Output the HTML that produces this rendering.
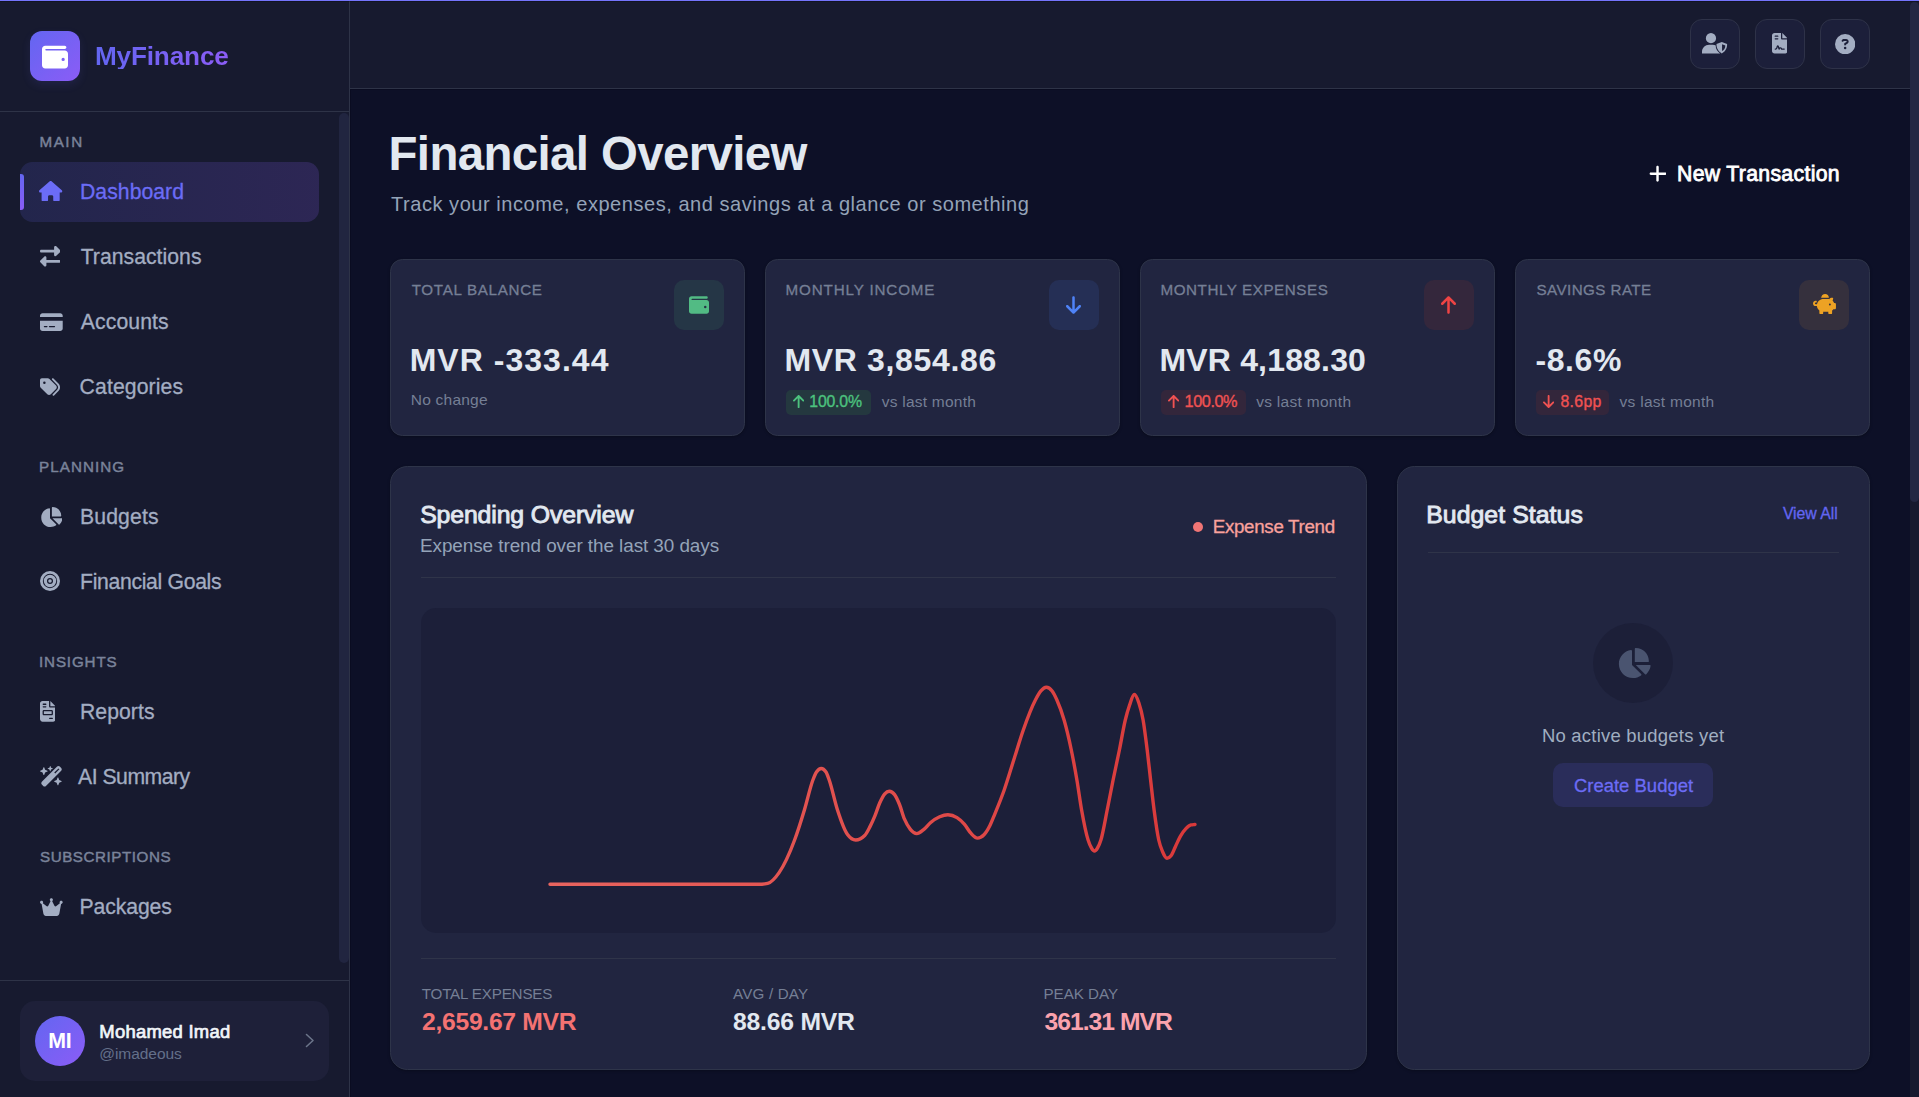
<!DOCTYPE html><html><head><meta charset="utf-8"><title>MyFinance</title><style>
*{margin:0;padding:0;box-sizing:border-box}
html,body{width:1919px;height:1097px;overflow:hidden;background:#0d1027;font-family:"Liberation Sans",sans-serif}
.a{position:absolute}
.t{position:absolute;white-space:nowrap}
.ic{position:absolute;display:block}
</style></head><body>
<div class="a" style="left:0px;top:0px;width:349px;height:1097px;background:#171a2f"></div>
<div class="a" style="left:349px;top:0px;width:1px;height:1097px;background:#2e3347"></div>
<div class="a" style="left:0px;top:111px;width:349px;height:1px;background:#2e3347"></div>
<div class="a" style="left:0px;top:980px;width:349px;height:1px;background:#2e3347"></div>
<div class="a" style="left:350px;top:0px;width:1560px;height:88px;background:#171a2f"></div>
<div class="a" style="left:350px;top:88px;width:1560px;height:1px;background:#2e3347"></div>
<div class="a" style="left:1910px;top:0px;width:9px;height:1097px;background:#171a2f"></div>
<div class="a" style="left:1910px;top:2px;width:9px;height:500px;background:#232743;border-radius:5px"></div>
<div class="a" style="left:339px;top:113px;width:10px;height:850px;background:#212540;border-radius:5px"></div>
<div class="a" style="left:350px;top:89px;width:1px;height:1008px;background:#0a0c21"></div>
<div class="a" style="left:350px;top:89px;width:1560px;height:1px;background:#0a0c21"></div>
<div class="a" style="left:0px;top:0px;width:1919px;height:1px;background:#7474fc"></div>
<div class="a" style="left:0px;top:1px;width:1919px;height:1px;background:rgba(0,0,0,0.25)"></div>
<div class="a" style="left:30px;top:31px;width:50px;height:50px;border-radius:12px;background:linear-gradient(135deg,#6366f1,#8b5cf6);box-shadow:0 4px 10px rgba(99,102,241,0.12)"></div>
<svg class="ic" style="left:42px;top:43.6px;width:26.00px;height:26px" viewBox="0 0 512 512"><path fill="#ffffff" fill-rule="evenodd" d="M64 32C28.7 32 0 60.7 0 96V416c0 35.3 28.7 64 64 64H448c35.3 0 64-28.7 64-64V192c0-35.3-28.7-64-64-64H80c-8.8 0-16-7.2-16-16s7.2-16 16-16H448c17.7 0 32-14.3 32-32s-14.3-32-32-32H64zM416 272a32 32 0 1 1 0 64 32 32 0 1 1 0-64z"/></svg>
<div class="a" style="left:20px;top:162px;width:299px;height:60px;border-radius:12.5px;background:linear-gradient(90deg,rgba(99,102,241,0.15),rgba(139,92,246,0.19))"></div>
<div class="a" style="left:20px;top:174px;width:4px;height:36px;border-radius:0 3px 3px 0;background:linear-gradient(180deg,#6366f1,#8b5cf6)"></div>
<svg class="ic" style="left:39.3px;top:180.8px;width:23.29px;height:20.7px" viewBox="0 0 576 512"><path fill="#6b6cf6" fill-rule="evenodd" d="M575.8 255.5c0 18-15 32.1-32 32.1h-32l.7 160.2c0 2.7-.2 5.4-.5 8.1V472c0 22.1-17.9 40-40 40H456c-1.1 0-2.2 0-3.3-.1c-1.4 .1-2.8 .1-4.2 .1H416 392c-22.1 0-40-17.9-40-40V448 384c0-17.7-14.3-32-32-32H256c-17.7 0-32 14.3-32 32v64 24c0 22.1-17.9 40-40 40H160 128.1c-1.5 0-3-.1-4.5-.2c-1.2 .1-2.4 .2-3.6 .2H104c-22.1 0-40-17.9-40-40V360c0-.9 0-1.9 .1-2.8V287.6H32c-18 0-32-14-32-32.1c0-9 3-17 10-24L266.4 8c7-7 15-8 22-8s15 2 21 7L564.8 231.5c8 7 12 15 11 24z"/></svg>
<svg class="ic" style="left:39.8px;top:246.2px;width:20.50px;height:20.5px" viewBox="0 0 512 512"><path fill="#a3adc2" fill-rule="evenodd" d="M32 96l320 0 0-64c0-12.9 7.8-24.6 19.8-29.6s25.7-2.2 34.9 6.9l96 96c6 6 9.4 14.1 9.4 22.6s-3.4 16.6-9.4 22.6l-96 96c-9.2 9.200-22.9 11.9-34.9 6.9s-19.8-16.6-19.8-29.6l0-64L32 160c-17.7 0-32-14.3-32-32s14.3-32 32-32zM480 352c17.7 0 32 14.3 32 32s-14.3 32-32 32l-320 0 0 64c0 12.9-7.8 24.6-19.8 29.6s-25.7 2.2-34.9-6.900l-96-96c-6-6-9.4-14.1-9.4-22.6s3.4-16.6 9.4-22.6l96-96c9.2-9.2 22.9-11.9 34.9-6.9s19.8 16.6 19.8 29.6l0 64 320 0z"/></svg>
<svg class="ic" style="left:40px;top:311.8px;width:22.72px;height:20.2px" viewBox="0 0 576 512"><path fill="#a3adc2" fill-rule="evenodd" d="M64 32C28.7 32 0 60.7 0 96v32H576V96c0-35.3-28.7-64-64-64H64zM576 224H0V416c0 35.3 28.7 64 64 64H512c35.3 0 64-28.7 64-64V224zM112 352h64c8.8 0 16 7.2 16 16s-7.2 16-16 16H112c-8.8 0-16-7.2-16-16s7.2-16 16-16zm112 16c0-8.8 7.2-16 16-16H368c8.8 0 16 7.2 16 16s-7.2 16-16 16H240c-8.8 0-16-7.2-16-16z"/></svg>
<svg class="ic" style="left:40.1px;top:376.7px;width:20.00px;height:20px" viewBox="0 0 512 512"><path fill="#a3adc2" fill-rule="evenodd" d="M345 39.1L472.8 168.4c52.4 53 52.4 138.2 0 191.2L360.8 472.9c-9.3 9.4-24.5 9.5-33.9 .2s-9.5-24.5-.2-33.9L438.6 325.9c33.9-34.3 33.9-89.4 0-123.7L310.9 72.9c-9.3-9.4-9.2-24.6 .2-33.9s24.6-9.2 33.9 .2zM0 229.5V80C0 53.5 21.5 32 48 32H197.5c17 0 33.3 6.7 45.3 18.7l168 168c25 25 25 65.5 0 90.5L277.3 442.7c-25 25-65.5 25-90.5 0l-168-168C6.7 262.7 0 246.5 0 229.5zM144 144a32 32 0 1 0 -64 0 32 32 0 1 0 64 0z"/></svg>
<svg class="ic" style="left:39.8px;top:506.8px;width:22.50px;height:20px" viewBox="0 0 576 512"><path fill="#a3adc2" fill-rule="evenodd" d="M304 240V16.6c0-9 7-16.6 16-16.6C443.7 0 544 100.3 544 224c0 9-7.6 16-16.6 16H304zM32 272C32 150.7 122.1 50.3 239 34.3c9.2-1.3 17 6.1 17 15.4V288L412.5 444.5c6.7 6.7 6.2 17.7-1.5 23.1C371.8 495.6 323.8 512 272 512C139.5 512 32 404.6 32 272zm526.4 16c9.3 0 16.6 7.8 15.4 17c-7.7 55.9-34.6 105.6-73.9 142.3c-6 5.6-15.4 5.2-21.2-.7L320 288H558.4z"/></svg>
<svg class="ic" style="left:40px;top:571.4px;width:20.00px;height:20px" viewBox="0 0 512 512"><path fill="#a3adc2" fill-rule="evenodd" d="M0 256a256 256 0 1 0 512 0a256 256 0 1 0 -512 0zM72 256a184 184 0 1 0 368 0a184 184 0 1 0 -368 0zM97 256a159 159 0 1 0 318 0a159 159 0 1 0 -318 0zM179 256a77 77 0 1 0 154 0a77 77 0 1 0 -154 0zM210 256a46 46 0 1 0 92 0a46 46 0 1 0 -92 0z"/></svg>
<svg class="ic" style="left:39.7px;top:701.2px;width:15.52px;height:20.7px" viewBox="0 0 384 512"><path fill="#a3adc2" fill-rule="evenodd" d="M64 0C28.7 0 0 28.7 0 64V448c0 35.3 28.7 64 64 64H320c35.3 0 64-28.7 64-64V160H256c-17.7 0-32-14.3-32-32V0H64zM256 0V128H384L256 0zM80 64h64c8.8 0 16 7.2 16 16s-7.2 16-16 16H80c-8.8 0-16-7.2-16-16s7.2-16 16-16zm0 64h64c8.8 0 16 7.2 16 16s-7.2 16-16 16H80c-8.8 0-16-7.2-16-16s7.2-16 16-16zm16 96H288c17.7 0 32 14.3 32 32v64c0 17.7-14.3 32-32 32H96c-17.7 0-32-14.3-32-32V256c0-17.7 14.3-32 32-32zm0 32v64H288V256H96zM240 416h64c8.8 0 16 7.2 16 16s-7.2 16-16 16H240c-8.8 0-16-7.2-16-16s7.2-16 16-16z"/></svg>
<svg class="ic" style="left:39.7px;top:766.2px;width:23.06px;height:20.5px" viewBox="0 0 576 512"><path fill="#a3adc2" fill-rule="evenodd" d="M234.7 42.7L197 56.8c-3 1.1-5 4-5 7.2s2 6.1 5 7.2l37.7 14.1L248.8 123c1.1 3 4 5 7.2 5s6.1-2 7.2-5l14.1-37.7L315 71.2c3-1.1 5-4 5-7.2s-2-6.1-5-7.2L277.3 42.7 263.2 5c-1.1-3-4-5-7.2-5s-6.1 2-7.2 5L234.7 42.7zM46.1 395.4c-18.7 18.7-18.7 49.1 0 67.9l34.6 34.6c18.7 18.7 49.1 18.7 67.9 0L529.9 116.5c18.7-18.7 18.7-49.1 0-67.9L495.3 14.1c-18.7-18.7-49.1-18.7-67.9 0L46.1 395.4zM484.6 82.6l-105 105-23.3-23.3 105-105 23.3 23.3zM7.5 117.2C3 118.9 0 123.2 0 128s3 9.1 7.5 10.8L64 160l21.2 56.5c1.7 4.5 6 7.5 10.8 7.5s9.1-3 10.8-7.5L128 160l56.5-21.2c4.5-1.7 7.5-6 7.5-10.8s-3-9.1-7.5-10.8L128 96 106.8 39.5C105.1 35 100.8 32 96 32s-9.1 3-10.8 7.5L64 96 7.5 117.2zm352 256c-4.5 1.7-7.5 6-7.5 10.8s3 9.1 7.5 10.8L416 416l21.2 56.5c1.7 4.5 6 7.5 10.8 7.5s9.1-3 10.8-7.5L480 416l56.5-21.2c4.5-1.7 7.5-6 7.5-10.8s-3-9.1-7.5-10.8L480 352l-21.2-56.5c-1.7-4.5-6-7.5-10.8-7.5s-9.1 3-10.8 7.5L416 352l-56.5 21.2z"/></svg>
<svg class="ic" style="left:40px;top:897px;width:22.72px;height:20.2px" viewBox="0 0 576 512"><path fill="#a3adc2" fill-rule="evenodd" d="M309 106c11.4-7 19-19.7 19-34c0-22.1-17.9-40-40-40s-40 17.9-40 40c0 14.4 7.6 27 19 34L209.7 220.6c-9.1 18.2-32.7 23.4-48.6 10.7L72 160c5-6.7 8-15 8-24c0-22.1-17.9-40-40-40S0 113.9 0 136s17.9 40 40 40c.2 0 .5 0 .7 0L86.4 427.4c5.5 30.4 32 52.6 63 52.6H426.6c30.9 0 57.4-22.1 63-52.6L535.3 176c.2 0 .5 0 .7 0c22.1 0 40-17.9 40-40s-17.9-40-40-40s-40 17.9-40 40c0 9 3 17.3 8 24l-89.1 71.3c-15.9 12.7-39.5 7.5-48.6-10.7L309 106z"/></svg>
<div class="a" style="left:20px;top:1001px;width:309px;height:80px;border-radius:15px;background:#1e2039"></div>
<div class="a" style="left:35px;top:1016px;width:50px;height:50px;border-radius:50%;background:linear-gradient(135deg,#6366f1,#8b5cf6)"></div>
<svg class="ic" style="left:303px;top:1032px;width:14px;height:17px" viewBox="0 0 14 17"><path d="M3.5 2.5L10 8.5L3.5 14.5" fill="none" stroke="#6b7489" stroke-width="1.6" stroke-linecap="round" stroke-linejoin="round"/></svg>
<div class="a" style="left:1690px;top:19px;width:50px;height:50px;border-radius:12px;background:#1c1f3a;border:1px solid #2e3248"></div>
<div class="a" style="left:1755px;top:19px;width:50px;height:50px;border-radius:12px;background:#1c1f3a;border:1px solid #2e3248"></div>
<div class="a" style="left:1820px;top:19px;width:50px;height:50px;border-radius:12px;background:#1c1f3a;border:1px solid #2e3248"></div>
<svg class="ic" style="left:1702px;top:33.2px;width:25.6px;height:20.5px" viewBox="0 0 640 512"><path fill="#a3adc2" d="M224 256A128 128 0 1 0 224 0a128 128 0 1 0 0 256zM178.3 292C79.8 292 0 371.8 0 470.3V512H448V470.3C448 371.8 368.2 292 269.7 292H178.3z"/><path fill="#1c1f3a" stroke="#1c1f3a" stroke-width="44" stroke-linejoin="round" d="M495 222L362 276C358 400 430 478 495 510C560 478 632 400 628 276Z"/><path fill="#a3adc2" d="M495 222L362 276C358 400 430 478 495 510C560 478 632 400 628 276Z"/><path fill="#1c1f3a" d="M502 282L502 452C545 425 585 385 583 312Z"/></svg>
<svg class="ic" style="left:1772px;top:33.2px;width:15.45px;height:20.6px" viewBox="0 0 384 512"><path fill="#a3adc2" fill-rule="evenodd" d="M64 0C28.7 0 0 28.7 0 64V448c0 35.3 28.7 64 64 64H320c35.3 0 64-28.7 64-64V160H256c-17.7 0-32-14.3-32-32V0H64zM256 0V128H384L256 0zM80 64h64c8.8 0 16 7.2 16 16s-7.2 16-16 16H80c-8.8 0-16-7.2-16-16s7.2-16 16-16zm0 64h64c8.8 0 16 7.2 16 16s-7.2 16-16 16H80c-8.8 0-16-7.2-16-16s7.2-16 16-16zm54.2 253.8c-6.1 20.3-24.8 34.2-46 34.2H80c-8.8 0-16-7.2-16-16s7.2-16 16-16h8.2c7.1 0 13.3-4.6 15.3-11.4l14.9-49.5c3.4-11.3 13.8-19.1 25.6-19.1s22.2 7.7 25.6 19.1l11.6 38.6c7.4-6.2 16.8-9.7 26.8-9.7c15.9 0 30.4 9 37.5 23.2l4.4 8.8H304c8.8 0 16 7.2 16 16s-7.2 16-16 16H240c-6.1 0-11.6-3.4-14.3-8.8l-8.8-17.7c-1.7-3.4-5.1-5.5-8.8-5.5s-7.2 2.1-8.8 5.5l-8.8 17.7c-2.9 5.9-9.2 9.4-15.7 8.8s-12.1-5.1-13.9-11.3L144 349l-9.8 32.8z"/></svg>
<svg class="ic" style="left:1835px;top:33.5px;width:20.30px;height:20.3px" viewBox="0 0 512 512"><path fill="#a3adc2" fill-rule="evenodd" d="M256 512A256 256 0 1 0 256 0a256 256 0 1 0 0 512zM169.8 165.3c7.9-22.3 29.1-37.3 52.8-37.3h58.3c34.9 0 63.1 28.3 63.1 63.1c0 22.6-12.1 43.5-31.7 54.8L280 264.4c-.2 13-10.9 23.6-24 23.6c-13.3 0-24-10.7-24-24V250.5c0-8.6 4.6-16.5 12.1-20.8l44.3-25.4c4.7-2.7 7.6-7.7 7.6-13.1c0-8.4-6.8-15.1-15.1-15.1H222.6c-3.4 0-6.4 2.1-7.5 5.3l-.4 1.2c-4.4 12.5-18.2 19-30.6 14.6s-19-18.2-14.6-30.6l.4-1.2zM224 352a32 32 0 1 1 64 0 32 32 0 1 1 -64 0z"/></svg>
<svg class="ic" style="left:1648.6px;top:163.8px;width:17.06px;height:19.5px" viewBox="0 0 448 512"><path fill="#ffffff" fill-rule="evenodd" d="M256 80c0-17.7-14.3-32-32-32s-32 14.3-32 32V224H48c-17.7 0-32 14.3-32 32s14.3 32 32 32H192V432c0 17.7 14.3 32 32 32s32-14.3 32-32V288H432c17.7 0 32-14.3 32-32s-14.3-32-32-32H256V80z"/></svg>
<div class="a" style="left:390px;top:259px;width:355px;height:177px;border-radius:12.5px;background:#212540;border:1px solid #2e3449;box-shadow:0 1px 3px rgba(0,0,0,0.25)"></div>
<div class="a" style="left:674px;top:280px;width:50px;height:50px;border-radius:10px;background:#253646"></div>
<div class="a" style="left:765px;top:259px;width:355px;height:177px;border-radius:12.5px;background:#212540;border:1px solid #2e3449;box-shadow:0 1px 3px rgba(0,0,0,0.25)"></div>
<div class="a" style="left:1049px;top:280px;width:50px;height:50px;border-radius:10px;background:#252f55"></div>
<div class="a" style="left:1140px;top:259px;width:355px;height:177px;border-radius:12.5px;background:#212540;border:1px solid #2e3449;box-shadow:0 1px 3px rgba(0,0,0,0.25)"></div>
<div class="a" style="left:1424px;top:280px;width:50px;height:50px;border-radius:10px;background:#34273c"></div>
<div class="a" style="left:1515px;top:259px;width:355px;height:177px;border-radius:12.5px;background:#212540;border:1px solid #2e3449;box-shadow:0 1px 3px rgba(0,0,0,0.25)"></div>
<div class="a" style="left:1799px;top:280px;width:50px;height:50px;border-radius:10px;background:#35303d"></div>
<svg class="ic" style="left:689px;top:294.8px;width:20.00px;height:20px" viewBox="0 0 512 512"><path fill="#52bb84" fill-rule="evenodd" d="M64 32C28.7 32 0 60.7 0 96V416c0 35.3 28.7 64 64 64H448c35.3 0 64-28.7 64-64V192c0-35.3-28.7-64-64-64H80c-8.8 0-16-7.2-16-16s7.2-16 16-16H448c17.7 0 32-14.3 32-32s-14.3-32-32-32H64zM416 272a32 32 0 1 1 0 64 32 32 0 1 1 0-64z"/></svg>
<svg class="ic" style="left:1066px;top:294.8px;width:15.00px;height:20px" viewBox="0 0 384 512"><path fill="#4f83f7" fill-rule="evenodd" d="M169.4 470.6c12.5 12.5 32.8 12.5 45.3 0l160-160c12.5-12.5 12.5-32.8 0-45.3s-32.8-12.5-45.3 0L224 370.8 224 64c0-17.7-14.3-32-32-32s-32 14.3-32 32l0 306.7L54.6 265.4c-12.5-12.5-32.8-12.5-45.3 0s-12.5 32.8 0 45.3l160 160z"/></svg>
<svg class="ic" style="left:1441px;top:294.8px;width:15.00px;height:20px" viewBox="0 0 384 512"><path fill="#ef4444" fill-rule="evenodd" d="M214.6 41.4c-12.5-12.5-32.8-12.5-45.3 0l-160 160c-12.5 12.5-12.5 32.8 0 45.3s32.8 12.5 45.3 0L160 141.2V448c0 17.7 14.3 32 32 32s32-14.3 32-32V141.2L329.4 246.6c12.5 12.5 32.8 12.5 45.3 0s12.5-32.8 0-45.3l-160-160z"/></svg>
<svg class="ic" style="left:1812.6px;top:294.0px;width:22.95px;height:20.4px" viewBox="0 0 576 512"><path fill="#eda224" fill-rule="evenodd" d="M400 96l0 .7c-5.3-.4-10.6-.7-16-.7H256c-16.5 0-32.5 2.1-47.8 6c-.1-2-.2-4-.2-6c0-53 43-96 96-96s96 43 96 96zm-16 32c3.5 0 7 .1 10.4 .3c4.2 .3 8.4 .7 12.6 1.3C424.6 109.1 450.8 96 480 96h11.5c10.4 0 18 9.8 15.5 19.9l-13.8 55.2c15.8 14.8 28.7 32.8 37.5 52.9H544c17.7 0 32 14.3 32 32v96c0 17.7-14.3 32-32 32H512c-9.1 12.1-19.9 22.9-32 32v64c0 17.7-14.3 32-32 32H416c-17.7 0-32-14.3-32-32V448H256v32c0 17.7-14.3 32-32 32H192c-17.7 0-32-14.3-32-32V416c-34.9-26.2-58.7-66.3-63.2-112H68c-37.6 0-68-30.4-68-68s30.4-68 68-68h4c13.3 0 24 10.7 24 24s-10.7 24-24 24H68c-11 0-20 9-20 20s9 20 20 20H99.2c12.1-59.8 57.7-107.5 116.3-122.8c12.9-3.4 26.5-5.2 40.5-5.2H384zm64 136a24 24 0 1 0 -48 0 24 24 0 1 0 48 0z"/></svg>
<div class="a" style="left:786px;top:390px;width:85px;height:25px;border-radius:5px;background:#24383f"></div>
<div class="a" style="left:1161px;top:390px;width:85px;height:25px;border-radius:5px;background:#33263b"></div>
<div class="a" style="left:1536px;top:390px;width:73px;height:25px;border-radius:5px;background:#33263b"></div>
<svg class="ic" style="left:793.2px;top:394.2px;width:11.25px;height:15px" viewBox="0 0 384 512"><path fill="#4cc27e" fill-rule="evenodd" d="M214.6 41.4c-12.5-12.5-32.8-12.5-45.3 0l-160 160c-12.5 12.5-12.5 32.8 0 45.3s32.8 12.5 45.3 0L160 141.2V448c0 17.7 14.3 32 32 32s32-14.3 32-32V141.2L329.4 246.6c12.5 12.5 32.8 12.5 45.3 0s12.5-32.8 0-45.3l-160-160z"/></svg>
<svg class="ic" style="left:1168.2px;top:394.2px;width:11.25px;height:15px" viewBox="0 0 384 512"><path fill="#f05252" fill-rule="evenodd" d="M214.6 41.4c-12.5-12.5-32.8-12.5-45.3 0l-160 160c-12.5 12.5-12.5 32.8 0 45.3s32.8 12.5 45.3 0L160 141.2V448c0 17.7 14.3 32 32 32s32-14.3 32-32V141.2L329.4 246.6c12.5 12.5 32.8 12.5 45.3 0s12.5-32.8 0-45.3l-160-160z"/></svg>
<svg class="ic" style="left:1543.2px;top:394.2px;width:11.25px;height:15px" viewBox="0 0 384 512"><path fill="#f05252" fill-rule="evenodd" d="M169.4 470.6c12.5 12.5 32.8 12.5 45.3 0l160-160c12.5-12.5 12.5-32.8 0-45.3s-32.8-12.5-45.3 0L224 370.8 224 64c0-17.7-14.3-32-32-32s-32 14.3-32 32l0 306.7L54.6 265.4c-12.5-12.5-32.8-12.5-45.3 0s-12.5 32.8 0 45.3l160 160z"/></svg>
<div class="a" style="left:390px;top:466px;width:977px;height:604px;border-radius:17.5px;box-shadow:0 1px 3px rgba(0,0,0,0.25);background:#212540;border:1px solid #2e3449"></div>
<div class="a" style="left:421px;top:577px;width:915px;height:1px;background:#2f3449"></div>
<div class="a" style="left:421px;top:608px;width:915px;height:325px;border-radius:15px;background:#1c1f39"></div>
<div class="a" style="left:421px;top:958px;width:915px;height:1px;background:#2f3449"></div>
<div class="a" style="left:1193px;top:522px;width:10px;height:10px;border-radius:50%;background:#f07575"></div>
<svg class="ic" style="left:0;top:0;width:1919px;height:1097px" viewBox="0 0 1919 1097"><defs><linearGradient id="lg" gradientUnits="userSpaceOnUse" x1="550" y1="0" x2="1195" y2="0"><stop offset="0" stop-color="#e8645f"/><stop offset="1" stop-color="#d9393a"/></linearGradient></defs><path d="M550.00 884.30C566.67 884.30 583.33 884.30 600.00 884.30C616.67 884.30 633.33 884.30 650.00 884.30C666.67 884.30 683.33 884.30 700.00 884.30C713.33 884.30 726.67 884.30 740.00 884.30C746.67 884.30 753.33 884.30 760.00 884.30C762.57 884.30 765.13 884.00 767.70 883.40C771.50 882.51 775.30 878.06 779.10 872.60C784.27 865.17 789.43 853.90 794.60 840.00C797.87 831.21 801.13 820.82 804.40 810.00C807.23 800.62 810.07 787.40 812.90 780.00C814.10 776.87 815.30 773.75 816.50 772.00C818.10 769.67 819.70 768.50 821.30 768.50C822.87 768.50 824.43 769.67 826.00 772.00C827.07 773.59 828.13 777.00 829.20 780.00C831.97 787.77 834.73 801.46 837.50 810.00C840.83 820.29 844.17 830.03 847.50 834.50C850.23 838.17 852.97 840.00 855.70 840.00C858.70 840.00 861.70 838.50 864.70 835.50C866.47 833.73 868.23 830.03 870.00 826.60C871.63 823.43 873.27 819.87 874.90 815.90C876.53 811.93 878.17 806.46 879.80 802.80C881.47 799.06 883.13 795.73 884.80 793.80C886.30 792.07 887.80 791.20 889.30 791.20C891.07 791.20 892.83 792.33 894.60 794.60C896.23 796.70 897.87 800.46 899.50 804.50C901.17 808.63 902.83 815.24 904.50 819.20C906.40 823.72 908.30 826.73 910.20 829.10C912.40 831.85 914.60 833.60 916.80 833.60C918.97 833.60 921.13 831.57 923.30 829.90C925.77 828.00 928.23 824.56 930.70 822.50C933.70 820.00 936.70 818.11 939.70 816.80C942.43 815.61 945.17 814.70 947.90 814.70C950.93 814.70 953.97 815.67 957.00 817.60C959.43 819.15 961.87 821.31 964.30 824.10C966.50 826.62 968.70 830.87 970.90 833.20C973.10 835.53 975.30 838.10 977.50 838.10C979.67 838.10 981.83 837.00 984.00 834.80C985.93 832.84 987.87 829.63 989.80 825.80C991.43 822.56 993.07 818.25 994.70 814.30C997.87 806.64 1001.03 799.02 1004.20 790.00C1007.38 780.93 1010.57 770.00 1013.75 760.00C1016.93 750.00 1020.12 739.07 1023.30 730.00C1027.33 718.51 1031.37 707.71 1035.40 700.00C1037.23 696.49 1039.07 693.04 1040.90 690.90C1042.70 688.80 1044.50 687.20 1046.30 687.20C1048.23 687.20 1050.17 688.47 1052.10 691.00C1053.70 693.10 1055.30 696.42 1056.90 700.00C1059.30 705.37 1061.70 711.67 1064.10 720.00C1066.50 728.33 1068.90 738.39 1071.30 750.00C1073.17 759.03 1075.03 768.96 1076.90 780.00C1078.47 789.27 1080.03 801.16 1081.60 810.00C1083.77 822.22 1085.93 833.22 1088.10 840.00C1089.23 843.55 1090.37 846.15 1091.50 848.00C1092.50 849.63 1093.50 851.00 1094.50 851.00C1095.50 851.00 1096.50 849.63 1097.50 848.00C1098.63 846.15 1099.77 843.62 1100.90 840.00C1103.00 833.29 1105.10 820.35 1107.20 810.00C1109.17 800.31 1111.13 789.69 1113.10 780.00C1115.20 769.65 1117.30 760.35 1119.40 750.00C1121.37 740.31 1123.33 728.18 1125.30 720.00C1126.73 714.04 1128.17 709.14 1129.60 705.00C1131.17 700.47 1132.73 694.50 1134.30 694.50C1135.83 694.50 1137.37 698.40 1138.90 703.00C1140.30 707.20 1141.70 712.02 1143.10 720.00C1144.47 727.79 1145.83 738.87 1147.20 750.00C1148.33 759.23 1149.47 770.14 1150.60 780.00C1151.77 790.15 1152.93 801.06 1154.10 810.00C1155.65 821.87 1157.20 832.90 1158.75 840.00C1160.00 845.72 1161.25 848.55 1162.50 851.50C1164.00 855.04 1165.50 858.30 1167.00 858.30C1168.40 858.30 1169.80 857.37 1171.20 855.50C1172.70 853.50 1174.20 849.01 1175.70 845.90C1177.40 842.38 1179.10 838.57 1180.80 835.70C1182.50 832.83 1184.20 830.50 1185.90 828.70C1187.60 826.90 1189.30 825.24 1191.00 824.90C1192.33 824.63 1193.67 824.63 1195.00 824.50" fill="none" stroke="url(#lg)" stroke-width="3.4" stroke-linecap="round" stroke-linejoin="round"/></svg>
<div class="a" style="left:1397px;top:466px;width:473px;height:604px;border-radius:17.5px;box-shadow:0 1px 3px rgba(0,0,0,0.25);background:#212540;border:1px solid #2e3449"></div>
<div class="a" style="left:1428px;top:552px;width:411px;height:1px;background:#2f3449"></div>
<div class="a" style="left:1593px;top:623px;width:80px;height:80px;border-radius:50%;background:#1c1f38"></div>
<svg class="ic" style="left:1617px;top:648px;width:33.75px;height:30px" viewBox="0 0 576 512"><path fill="#4a5470" fill-rule="evenodd" d="M304 240V16.6c0-9 7-16.6 16-16.6C443.7 0 544 100.3 544 224c0 9-7.6 16-16.6 16H304zM32 272C32 150.7 122.1 50.3 239 34.3c9.2-1.3 17 6.1 17 15.4V288L412.5 444.5c6.7 6.7 6.2 17.7-1.5 23.1C371.8 495.6 323.8 512 272 512C139.5 512 32 404.6 32 272zm526.4 16c9.3 0 16.6 7.8 15.4 17c-7.7 55.9-34.6 105.6-73.9 142.3c-6 5.6-15.4 5.2-21.2-.7L320 288H558.4z"/></svg>
<div class="a" style="left:1553px;top:763px;width:160px;height:44px;border-radius:10px;background:#2a2d5a"></div>
<div class="t" style="left:94.9px;top:43px;font-size:26.16px;line-height:26.16px;font-weight:700;letter-spacing:-0.153px;background:linear-gradient(90deg,#6366f1,#8b5cf6);-webkit-background-clip:text;background-clip:text;color:transparent;">MyFinance</div>
<div class="t" style="left:39.4px;top:134px;font-size:15.2px;line-height:15.2px;font-weight:400;letter-spacing:1.6px;-webkit-text-stroke:0.45px currentColor;color:#7a839a;">MAIN</div>
<div class="t" style="left:80px;top:181px;font-size:21.2px;line-height:21.2px;font-weight:400;letter-spacing:0.042px;-webkit-text-stroke:0.3px currentColor;color:#6b6cf6;">Dashboard</div>
<div class="t" style="left:80.7px;top:246px;font-size:21.2px;line-height:21.2px;font-weight:400;letter-spacing:0.026px;-webkit-text-stroke:0.3px currentColor;color:#a3adc2;">Transactions</div>
<div class="t" style="left:80.8px;top:311px;font-size:21.2px;line-height:21.2px;font-weight:400;letter-spacing:0.092px;-webkit-text-stroke:0.3px currentColor;color:#a3adc2;">Accounts</div>
<div class="t" style="left:79.6px;top:376px;font-size:21.2px;line-height:21.2px;font-weight:400;letter-spacing:0.104px;-webkit-text-stroke:0.3px currentColor;color:#a3adc2;">Categories</div>
<div class="t" style="left:39.1px;top:459px;font-size:15.2px;line-height:15.2px;font-weight:400;letter-spacing:1.053px;-webkit-text-stroke:0.45px currentColor;color:#7a839a;">PLANNING</div>
<div class="t" style="left:80px;top:506px;font-size:21.2px;line-height:21.2px;font-weight:400;letter-spacing:0.125px;-webkit-text-stroke:0.3px currentColor;color:#a3adc2;">Budgets</div>
<div class="t" style="left:80px;top:571px;font-size:21.2px;line-height:21.2px;font-weight:400;letter-spacing:-0.317px;-webkit-text-stroke:0.3px currentColor;color:#a3adc2;">Financial Goals</div>
<div class="t" style="left:39px;top:654px;font-size:15.2px;line-height:15.2px;font-weight:400;letter-spacing:0.844px;-webkit-text-stroke:0.45px currentColor;color:#7a839a;">INSIGHTS</div>
<div class="t" style="left:80px;top:701px;font-size:21.2px;line-height:21.2px;font-weight:400;letter-spacing:0.051px;-webkit-text-stroke:0.3px currentColor;color:#a3adc2;">Reports</div>
<div class="t" style="left:78.1px;top:766px;font-size:21.2px;line-height:21.2px;font-weight:400;letter-spacing:-0.506px;-webkit-text-stroke:0.3px currentColor;color:#a3adc2;">AI Summary</div>
<div class="t" style="left:40px;top:849px;font-size:15.2px;line-height:15.2px;font-weight:400;letter-spacing:0.54px;-webkit-text-stroke:0.45px currentColor;color:#7a839a;">SUBSCRIPTIONS</div>
<div class="t" style="left:79.4px;top:896px;font-size:21.2px;line-height:21.2px;font-weight:400;letter-spacing:-0.079px;-webkit-text-stroke:0.3px currentColor;color:#a3adc2;">Packages</div>
<div class="t" style="left:48.2px;top:1031px;font-size:21.37px;line-height:21.37px;font-weight:700;letter-spacing:-0.193px;color:#ffffff;">MI</div>
<div class="t" style="left:99.3px;top:1023px;font-size:18.46px;line-height:18.46px;font-weight:400;letter-spacing:0.26px;-webkit-text-stroke:0.7px currentColor;color:#f1f5f9;">Mohamed Imad</div>
<div class="t" style="left:99.3px;top:1046px;font-size:15.5px;line-height:15.5px;font-weight:400;letter-spacing:-0.061px;color:#64708a;">@imadeous</div>
<div class="t" style="left:388.5px;top:130px;font-size:47.4px;line-height:47.4px;font-weight:700;letter-spacing:-0.61px;color:#e2e8f0;">Financial Overview</div>
<div class="t" style="left:391px;top:194px;font-size:20.06px;line-height:20.06px;font-weight:400;letter-spacing:0.524px;color:#94a3b8;">Track your income, expenses, and savings at a glance or something</div>
<div class="t" style="left:1677px;top:163px;font-size:21.22px;line-height:21.22px;font-weight:400;letter-spacing:0.328px;-webkit-text-stroke:0.8px currentColor;color:#ffffff;">New Transaction</div>
<div class="t" style="left:411.7px;top:282px;font-size:15.2px;line-height:15.2px;font-weight:400;letter-spacing:0.681px;-webkit-text-stroke:0.3px currentColor;color:#757f95;">TOTAL BALANCE</div>
<div class="t" style="left:785.5px;top:282px;font-size:15.2px;line-height:15.2px;font-weight:400;letter-spacing:0.856px;-webkit-text-stroke:0.3px currentColor;color:#757f95;">MONTHLY INCOME</div>
<div class="t" style="left:1160.5px;top:282px;font-size:15.2px;line-height:15.2px;font-weight:400;letter-spacing:0.56px;-webkit-text-stroke:0.3px currentColor;color:#757f95;">MONTHLY EXPENSES</div>
<div class="t" style="left:1536.5px;top:282px;font-size:15.2px;line-height:15.2px;font-weight:400;letter-spacing:0.422px;-webkit-text-stroke:0.3px currentColor;color:#757f95;">SAVINGS RATE</div>
<div class="t" style="left:409.7px;top:344px;font-size:31.98px;line-height:31.98px;font-weight:700;letter-spacing:1.043px;color:#e2e8f0;">MVR -333.44</div>
<div class="t" style="left:784.5px;top:344px;font-size:31.98px;line-height:31.98px;font-weight:700;letter-spacing:0.665px;color:#e2e8f0;">MVR 3,854.86</div>
<div class="t" style="left:1159.5px;top:344px;font-size:31.98px;line-height:31.98px;font-weight:700;letter-spacing:0.183px;color:#e2e8f0;">MVR 4,188.30</div>
<div class="t" style="left:1535.5px;top:344px;font-size:31.98px;line-height:31.98px;font-weight:700;letter-spacing:0.578px;color:#e2e8f0;">-8.6%</div>
<div class="t" style="left:410.7px;top:392px;font-size:15.55px;line-height:15.55px;font-weight:400;letter-spacing:0.218px;color:#757f95;">No change</div>
<div class="t" style="left:809.3px;top:394px;font-size:15.84px;line-height:15.84px;font-weight:400;letter-spacing:-0.202px;-webkit-text-stroke:0.35px currentColor;color:#4cc27e;">100.0%</div>
<div class="t" style="left:1184.5px;top:393px;font-size:16.28px;line-height:16.28px;font-weight:400;letter-spacing:-0.421px;-webkit-text-stroke:0.35px currentColor;color:#f05252;">100.0%</div>
<div class="t" style="left:1560.5px;top:394px;font-size:15.84px;line-height:15.84px;font-weight:400;letter-spacing:0.298px;-webkit-text-stroke:0.35px currentColor;color:#f05252;">8.6pp</div>
<div class="t" style="left:881.7px;top:394px;font-size:15.5px;line-height:15.5px;font-weight:400;letter-spacing:0.242px;color:#757f95;">vs last month</div>
<div class="t" style="left:1256.2px;top:394px;font-size:15.5px;line-height:15.5px;font-weight:400;letter-spacing:0.292px;color:#757f95;">vs last month</div>
<div class="t" style="left:1619.5px;top:394px;font-size:15.5px;line-height:15.5px;font-weight:400;letter-spacing:0.284px;color:#757f95;">vs last month</div>
<div class="t" style="left:420.2px;top:503px;font-size:24.8px;line-height:24.8px;font-weight:400;letter-spacing:-0.12px;-webkit-text-stroke:0.9px currentColor;color:#e2e8f0;">Spending Overview</div>
<div class="t" style="left:420px;top:537px;font-size:18.9px;line-height:18.9px;font-weight:400;letter-spacing:-0.066px;color:#94a3b8;">Expense trend over the last 30 days</div>
<div class="t" style="left:1212.75px;top:518px;font-size:18.75px;line-height:18.75px;font-weight:400;letter-spacing:-0.315px;-webkit-text-stroke:0.3px currentColor;color:#f9a19c;">Expense Trend</div>
<div class="t" style="left:421.7px;top:986px;font-size:15.2px;line-height:15.2px;font-weight:400;letter-spacing:-0.178px;color:#757f95;">TOTAL EXPENSES</div>
<div class="t" style="left:733px;top:986px;font-size:15.2px;line-height:15.2px;font-weight:400;letter-spacing:0.178px;color:#757f95;">AVG / DAY</div>
<div class="t" style="left:1043.5px;top:986px;font-size:15.2px;line-height:15.2px;font-weight:400;letter-spacing:-0.03px;color:#757f95;">PEAK DAY</div>
<div class="t" style="left:422px;top:1010px;font-size:24.71px;line-height:24.71px;font-weight:700;letter-spacing:-0.298px;color:#f47272;">2,659.67 MVR</div>
<div class="t" style="left:733px;top:1010px;font-size:24.71px;line-height:24.71px;font-weight:700;letter-spacing:-0.217px;color:#e2e8f0;">88.66 MVR</div>
<div class="t" style="left:1044.5px;top:1010px;font-size:24.71px;line-height:24.71px;font-weight:700;letter-spacing:-0.997px;color:#fba2ad;">361.31 MVR</div>
<div class="t" style="left:1426.2px;top:503px;font-size:24.8px;line-height:24.8px;font-weight:400;letter-spacing:0.068px;-webkit-text-stroke:0.9px currentColor;color:#e2e8f0;">Budget Status</div>
<div class="t" style="left:1782.9px;top:506px;font-size:15.84px;line-height:15.84px;font-weight:400;letter-spacing:-0.042px;-webkit-text-stroke:0.3px currentColor;color:#6366f1;">View All</div>
<div class="t" style="left:1541.9px;top:727px;font-size:18.46px;line-height:18.46px;font-weight:400;letter-spacing:0.246px;color:#a0aec0;">No active budgets yet</div>
<div class="t" style="left:1573.9px;top:777px;font-size:18.46px;line-height:18.46px;font-weight:400;letter-spacing:0.027px;-webkit-text-stroke:0.3px currentColor;color:#6c6cf5;">Create Budget</div>
</body></html>
